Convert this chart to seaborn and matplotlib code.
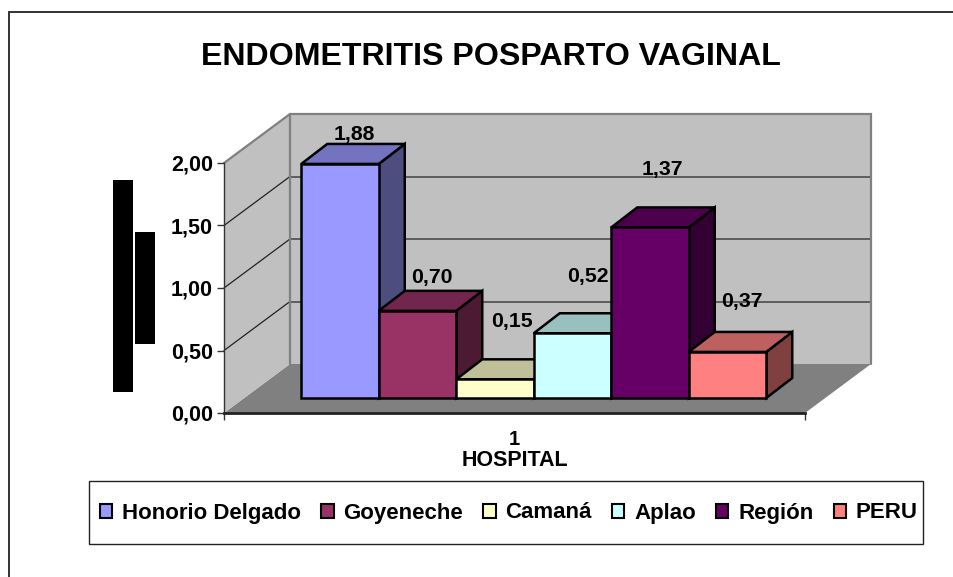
import matplotlib
matplotlib.use("Agg")
import matplotlib.pyplot as plt
from matplotlib.patches import Polygon, Patch, Rectangle
from matplotlib.colors import to_rgb
import seaborn as sns
import pandas as pd

# ---- data ----
hospitals = ["Honorio Delgado", "Goyeneche", "Camaná", "Aplao", "Región", "PERU"]
rates = [1.88, 0.70, 0.15, 0.52, 1.37, 0.37]
value_labels = ["1,88", "0,70", "0,15", "0,52", "1,37", "0,37"]
bar_colors = ["#9999FF", "#993366", "#FFFFCC", "#CCFFFF", "#660066", "#FF8080"]
y_ticks = [0.0, 0.5, 1.0, 1.5, 2.0]
y_tick_labels = ["0,00", "0,50", "1,00", "1,50", "2,00"]
title_text = "ENDOMETRITIS POSPARTO VAGINAL"
x_tick_text = "1"
x_axis_text = "HOSPITAL"
# label offsets from each bar's top centre, in pixels (right, up)
label_shift = [(14, 29), (14, 33), (17, 58), (15, 57), (12, 58), (14, 50)]

# ---- layout (pixels of the 954x577 picture) ----
W, H = 954, 577
PLOT_L, PLOT_R, PLOT_T, PLOT_B = 224, 805, 163, 413
WALL_DX, WALL_DY = 66, 49
BAR_W, PX_PER_UNIT = 77.5, 124.5
BAR0_CENTRE, BASE_Y = 340, 398
BAR_DX, BAR_DY = 26, 20

sns.set_style("white")
plt.rcParams["font.family"] = ["Liberation Sans", "DejaVu Sans"]
plt.rcParams["font.weight"] = "bold"
plt.rcParams["text.color"] = "black"
plt.rcParams["axes.labelcolor"] = "black"
plt.rcParams["xtick.labelcolor"] = "black"
plt.rcParams["ytick.labelcolor"] = "black"

fig = plt.figure(figsize=(W / 100, H / 100), dpi=100, facecolor="white")

# ---- background furniture ----
bg = fig.add_axes([0, 0, 1, 1], zorder=0)
bg.set_xlim(0, W)
bg.set_ylim(H, 0)
bg.axis("off")
bg.plot([W, 9, 9], [12, 12, H], color="#333333", lw=1.4, solid_joinstyle="miter")

back_l, back_r = PLOT_L + WALL_DX, PLOT_R + WALL_DX
back_b, back_t = PLOT_B - WALL_DY, PLOT_T - WALL_DY
bg.add_patch(Polygon([(PLOT_L, PLOT_B), (back_l, back_b), (back_r, back_b), (PLOT_R, PLOT_B)],
                     fc="#808080", ec="none"))
bg.add_patch(Polygon([(PLOT_L, PLOT_B), (back_l, back_b), (back_l, back_t), (PLOT_L, PLOT_T)],
                     fc="#C0C0C0", ec="none"))
bg.add_patch(Rectangle((back_l, back_t), back_r - back_l, back_b - back_t, fc="#C0C0C0", ec="none"))
for v in y_ticks[1:-1]:
    dy = v * 125
    bg.plot([back_l, back_r], [back_b - dy, back_b - dy], color="#555555", lw=1.3)
    bg.plot([PLOT_L, back_l], [PLOT_B - dy, back_b - dy], color="#222222", lw=0.9)
bg.plot([PLOT_L, back_l, back_r, back_r], [PLOT_T, back_t, back_t, back_b], color="#808080", lw=1.6,
        solid_joinstyle="miter")
bg.plot([back_l, back_l], [back_t, back_b], color="#808080", lw=1.6)

bg.fill_between([113, 133], 180, 392, color="black", lw=0)
bg.fill_between([135, 155], 232, 344, color="black", lw=0)
bg.text(491, 57, title_text, ha="center", va="center", fontsize=23.1, fontweight="bold", color="black")
# legend frame
bg.add_patch(Rectangle((89, 481), 834, 63, fc="white", ec="#222222", lw=1.0))

# ---- real axis: 0-2 on the front plane ----
rect = [PLOT_L / W, 1 - PLOT_B / H, (PLOT_R - PLOT_L) / W, (PLOT_B - PLOT_T) / H]
axis_ax = fig.add_axes(rect, zorder=1)
axis_ax.patch.set_visible(False)
axis_ax.set_ylim(0, 2)
axis_ax.set_xlim(0, 1)
for s in ("top", "right"):
    axis_ax.spines[s].set_visible(False)
axis_ax.spines["left"].set_color("#333333")
axis_ax.spines["left"].set_linewidth(1.0)
axis_ax.spines["bottom"].set_color("#222222")
axis_ax.spines["bottom"].set_linewidth(2.0)
axis_ax.set_yticks(y_ticks, y_tick_labels, fontsize=15.5, fontweight="bold")
axis_ax.tick_params(axis="y", length=5, width=1, color="#333333", pad=3, left=True)
axis_ax.set_xticks([0.5], [x_tick_text], fontsize=14.5, fontweight="bold")
axis_ax.tick_params(axis="x", which="major", length=0, pad=12.5)
axis_ax.set_xticks([0, 1], minor=True)
axis_ax.tick_params(axis="x", which="minor", length=5, width=1, color="#333333", bottom=True)
axis_ax.set_xlabel(x_axis_text, fontsize=15.5, fontweight="bold", labelpad=0.5)

# ---- bars ----
ax = fig.add_axes(rect, zorder=2)
ax.patch.set_visible(False)
df = pd.DataFrame({"hospital": hospitals, "rate": rates})
sns.barplot(data=df, x="hospital", y="rate", hue="hospital", order=hospitals, hue_order=hospitals,
            palette=bar_colors, width=1, dodge=False, saturation=1, legend=False,
            edgecolor="black", linewidth=1.8, ax=ax)
ax.set_xlim(-(BAR0_CENTRE - PLOT_L) / BAR_W, (PLOT_R - BAR0_CENTRE) / BAR_W)
base = (PLOT_B - BASE_Y) / PX_PER_UNIT
ax.set_ylim(-base, (PLOT_B - PLOT_T) / PX_PER_UNIT - base)
ax.axis("off")

depth_x, depth_y = BAR_DX / BAR_W, BAR_DY / PX_PER_UNIT
bars = [c[0] for c in ax.containers]
for i, bar in enumerate(bars):
    x0, x1 = bar.get_x(), bar.get_x() + bar.get_width()
    h = bar.get_height()
    rgb = to_rgb(bar_colors[i])
    side = Polygon([(x1, 0), (x1 + depth_x, depth_y), (x1 + depth_x, h + depth_y), (x1, h)],
                   fc=tuple(c * 0.5 for c in rgb), ec="black", lw=1.8, zorder=3 + i, clip_on=False,
                   joinstyle="miter")
    top = Polygon([(x0, h), (x0 + depth_x, h + depth_y), (x1 + depth_x, h + depth_y), (x1, h)],
                  fc=tuple(c * 0.75 for c in rgb), ec="black", lw=1.8, zorder=3 + i, clip_on=False,
                  joinstyle="miter")
    ax.add_patch(side)
    ax.add_patch(top)
    bar.set_zorder(3.5 + i)
    bar.set_clip_on(False)
    ax.annotate(value_labels[i], (bar.get_x() + bar.get_width() / 2, h), xytext=label_shift[i],
                textcoords="offset pixels", ha="center", va="center", fontsize=15.3,
                fontweight="bold", color="black", zorder=20, annotation_clip=False)

# ---- legend ----
handles = [Patch(fc=c, ec="black", lw=1.5) for c in bar_colors]
leg = fig.legend(handles, hospitals, loc="center", ncol=6, mode="expand",
                 bbox_to_anchor=(100 / W, 1 - 543 / H, 818 / W, 60 / H),
                 fontsize=16, frameon=False,
                 handlelength=0.55, handleheight=0.6, handletextpad=0.45, columnspacing=0.5,
                 borderaxespad=0, borderpad=0)
for t in leg.get_texts():
    t.set_fontweight("bold")
    t.set_color("black")

fig.savefig("out.png", dpi=100, facecolor="white")
